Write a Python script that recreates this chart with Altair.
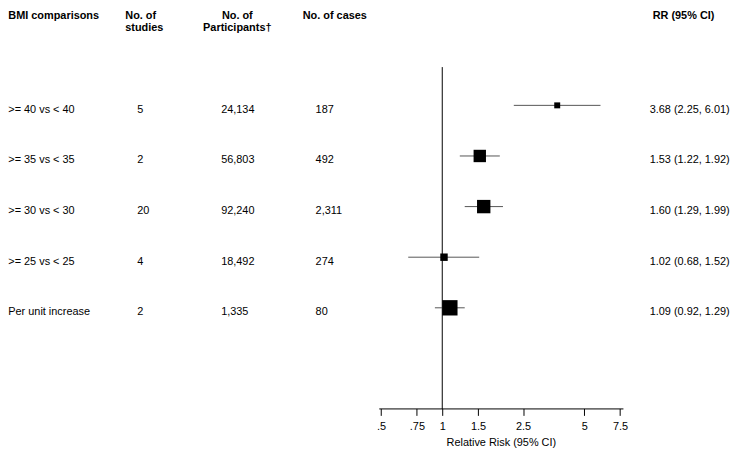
import altair as alt
import pandas as pd

# ---- data ----
comparisons = [">= 40 vs < 40", ">= 35 vs < 35", ">= 30 vs < 30", ">= 25 vs < 25", "Per unit increase"]
n_studies = ["5", "2", "20", "4", "2"]
participants = ["24,134", "56,803", "92,240", "18,492", "1,335"]
cases = ["187", "492", "2,311", "274", "80"]
rr = [3.68, 1.53, 1.60, 1.02, 1.09]
rr_lo = [2.25, 1.22, 1.29, 0.68, 0.92]
rr_hi = [6.01, 1.92, 1.99, 1.52, 1.29]
weights = [5.4, 23.3, 27.2, 8.4, 35.8]  # relative marker weights (box area)

tick_values = [0.5, 0.75, 1, 1.5, 2.5, 5, 7.5]
tick_labels = [".5", ".75", "1", "1.5", "2.5", "5", "7.5"]

header_cols = [
    ["BMI comparisons"],
    ["No. of", "studies"],
    ["No. of", "Participants†"],
    ["No. of cases"],
    ["RR (95% CI)"],
]

ref_value = [1]
ref_span = [-0.756, 6.0]

FONT = "Liberation Sans"

df = pd.DataFrame({
    "row": list(range(len(comparisons))),
    "comparison": comparisons,
    "studies": n_studies,
    "participants": participants,
    "cases": cases,
    "rr": rr,
    "lo": rr_lo,
    "hi": rr_hi,
    "w": weights,
})
df["label"] = [f"{a:.2f} ({b:.2f}, {c:.2f})" for a, b, c in zip(rr, rr_lo, rr_hi)]

label_expr = " : ".join(
    [f"datum.value == {v} ? '{l}'" for v, l in zip(tick_values, tick_labels)]
) + " : ''"

FOREST_W = 246.3
OX = 373.7  # left offset of the forest panel from the table's left edge
HEADER_Y = [-1.7097, -1.461]  # header line positions on the row scale

x_scale = alt.Scale(type="log", domain=[0.487, 7.75], nice=False)
y_scale = alt.Scale(domain=[-1.886, 5.988], reverse=True, nice=False, zero=False)

base = alt.Chart(df)

ci = base.mark_rule(color="#555555", strokeWidth=1).encode(
    x=alt.X("lo:Q", scale=x_scale,
            axis=alt.Axis(values=tick_values, labelExpr=label_expr,
                          title="Relative Risk (95% CI)", grid=False,
                          tickSize=7, tickColor="black", domainColor="black",
                          labelFont=FONT, labelFontSize=11, labelColor="black",
                          labelPadding=5, titleFont=FONT, titleFontSize=11,
                          titleFontWeight="normal", titleColor="black",
                          titlePadding=5, labelFlush=False)),
    x2="hi:Q",
    y=alt.Y("row:Q", scale=y_scale, axis=None),
)

boxes = base.mark_point(shape="square", filled=True, color="black", opacity=1).encode(
    x=alt.X("rr:Q"),
    y=alt.Y("row:Q", axis=None),
    size=alt.Size("w:Q", scale=alt.Scale(domain=[0, 100], range=[0, 670]), legend=None),
)

refline = alt.Chart(pd.DataFrame({"x": ref_value, "y": [ref_span[0]], "y2": [ref_span[1]]})).mark_rule(
    color="black", strokeWidth=1
).encode(x=alt.X("x:Q"), y=alt.Y("y:Q", axis=None), y2="y2:Q")


def col(field, xpos):
    return base.mark_text(align="left", baseline="alphabetic", dy=7.5, font=FONT,
                          fontSize=11, color="black").encode(
        x=alt.value(xpos - OX), y=alt.Y("row:Q", axis=None), text=f"{field}:N")


def header(lines, xpos, align="left"):
    hd = pd.DataFrame({"t": lines, "hy": HEADER_Y[:len(lines)]})
    return alt.Chart(hd).mark_text(
        align=align, baseline="alphabetic", font=FONT, fontSize=11,
        fontWeight="bold", color="black").encode(
        x=alt.value(xpos - OX), y=alt.Y("hy:Q", axis=None), text="t:N")


chart = alt.layer(
    refline, ci, boxes,
    col("comparison", 0), col("studies", 130), col("participants", 214.7),
    col("cases", 310), col("label", 647),
    header(header_cols[0], 0),
    header(header_cols[1], 118),
    header(header_cols[2], 231, "center"),
    header(header_cols[3], 297),
    header(header_cols[4], 650),
).properties(
    width=FOREST_W, height=402, padding=0,
).configure_view(stroke=None)

chart.save("out.html", embed_options={"renderer": "svg", "actions": False})
